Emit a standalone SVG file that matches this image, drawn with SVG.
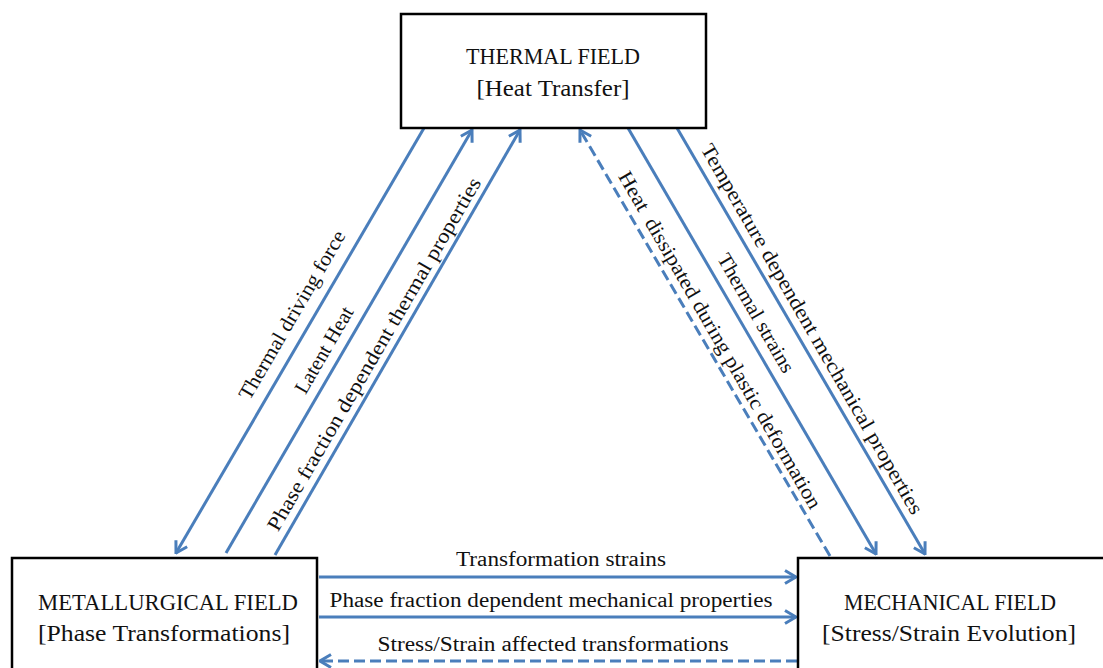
<svg xmlns="http://www.w3.org/2000/svg" width="1103" height="668" viewBox="0 0 1103 668">
<style>
.box{fill:#fff;stroke:#000;stroke-width:2.5}
.t{font-family:"Liberation Serif","Times New Roman",serif;font-size:23px;fill:#111;text-anchor:middle}
.lbl{font-family:"Liberation Serif","Times New Roman",serif;font-size:20.5px;fill:#111;text-anchor:middle}
.c{stroke:#4a7ebb;stroke-width:3;fill:none}
.d{stroke-dasharray:11 5}
</style>
<defs>
<marker id="ah" viewBox="0 0 14 16" refX="12.5" refY="8" markerWidth="14" markerHeight="16" markerUnits="userSpaceOnUse" orient="auto-start-reverse">
<path d="M1.5,1.5 L12.5,8 L1.5,14.5" fill="none" stroke="#4a7ebb" stroke-width="3"/>
</marker>
</defs>
<g id="connectors">
<line class="c" x1="424" y1="128" x2="176" y2="553" marker-end="url(#ah)"/>
<line class="c" x1="226" y1="553" x2="472" y2="130" marker-end="url(#ah)"/>
<line class="c" x1="275" y1="555" x2="520" y2="130" marker-end="url(#ah)"/>
<line class="c d" x1="830" y1="556" x2="580" y2="130" marker-end="url(#ah)"/>
<line class="c" x1="628" y1="128" x2="876" y2="554" marker-end="url(#ah)"/>
<line class="c" x1="677" y1="128" x2="925" y2="554" marker-end="url(#ah)"/>
<line class="c" x1="319" y1="577" x2="796" y2="577" marker-end="url(#ah)"/>
<line class="c" x1="319" y1="617" x2="796" y2="617" marker-end="url(#ah)"/>
<line class="c d" x1="797" y1="661" x2="320" y2="661" marker-end="url(#ah)"/>
<text class="lbl" transform="translate(292,315) rotate(-59.8)" dy="0.33em" textLength="192" lengthAdjust="spacingAndGlyphs">Thermal driving force</text>
<text class="lbl" transform="translate(324,350) rotate(-59.8)" dy="0.33em" textLength="97" lengthAdjust="spacingAndGlyphs">Latent Heat</text>
<text class="lbl" transform="translate(374,354) rotate(-59.8)" dy="0.33em" textLength="405" lengthAdjust="spacingAndGlyphs">Phase fraction dependent thermal properties</text>
<text class="lbl" transform="translate(720,340) rotate(60)" dy="0.33em" xml:space="preserve" textLength="386" lengthAdjust="spacingAndGlyphs">Heat  dissipated during plastic deformation</text>
<text class="lbl" transform="translate(756,313) rotate(60)" dy="0.33em" textLength="134" lengthAdjust="spacingAndGlyphs">Thermal strains</text>
<text class="lbl" transform="translate(812,329) rotate(60)" dy="0.33em" textLength="424" lengthAdjust="spacingAndGlyphs">Temperature dependent mechanical properties</text>
<text class="lbl" x="561" y="566" textLength="210" lengthAdjust="spacingAndGlyphs">Transformation strains</text>
<text class="lbl" x="551" y="607" textLength="443" lengthAdjust="spacingAndGlyphs">Phase fraction dependent mechanical properties</text>
<text class="lbl" x="553" y="651" textLength="351" lengthAdjust="spacingAndGlyphs">Stress/Strain affected transformations</text>
</g>
<g id="thermal">
<rect class="box" x="401" y="14" width="305" height="114"/>
<text class="t" x="553" y="64" textLength="174" lengthAdjust="spacingAndGlyphs">THERMAL FIELD</text>
<text class="t" x="553" y="96" textLength="153" lengthAdjust="spacingAndGlyphs">[Heat Transfer]</text>
</g>
<g id="metallurgical">
<rect class="box" x="12" y="558" width="305" height="130"/>
<text class="t" x="168" y="610" textLength="260" lengthAdjust="spacingAndGlyphs">METALLURGICAL FIELD</text>
<text class="t" x="164" y="641" textLength="252" lengthAdjust="spacingAndGlyphs">[Phase Transformations]</text>
</g>
<g id="mechanical">
<rect class="box" x="798" y="558" width="330" height="130"/>
<text class="t" x="950" y="610" textLength="212" lengthAdjust="spacingAndGlyphs">MECHANICAL FIELD</text>
<text class="t" x="949" y="641" textLength="254" lengthAdjust="spacingAndGlyphs">[Stress/Strain Evolution]</text>
</g>
</svg>
